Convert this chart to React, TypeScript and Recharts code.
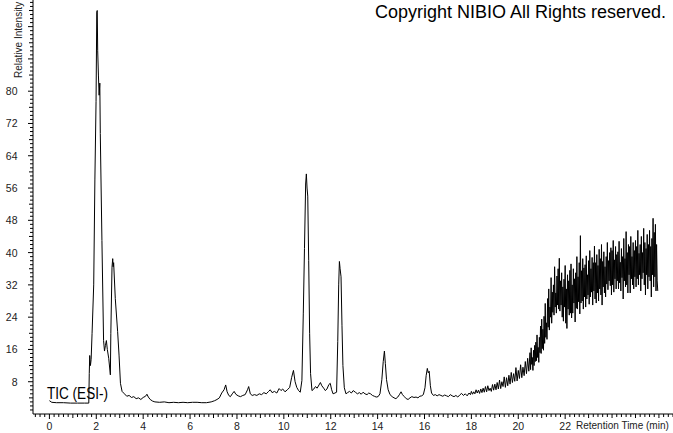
import { LineChart, Line, XAxis, YAxis } from "recharts";

// TIC (ESI-) chromatogram, retention time (min) vs relative intensity (%)

// solvent front + early cluster
const frontSegment: [number, number][] = [
  [0, 3.3], [0.1, 2.9], [0.3, 2.8], [0.6, 2.8], [0.9, 2.7], [1.2, 2.7], [1.5, 2.7], [1.68, 2.7],
  [1.7, 10], [1.72, 14.5], [1.75, 12], [1.78, 13.5], [1.82, 20], [1.89, 32], [1.94, 58], [1.99, 77.5],
  [2.02, 99.6], [2.04, 100], [2.06, 90], [2.09, 84], [2.12, 79], [2.15, 82], [2.17, 69.5], [2.24, 43],
  [2.31, 18.2], [2.35, 15.6], [2.39, 17], [2.43, 18.2], [2.47, 16], [2.53, 13.8], [2.6, 9.7],
  [2.62, 20], [2.67, 36.4], [2.7, 38.5], [2.72, 36.5], [2.74, 37.5], [2.81, 28.6], [2.91, 20.4],
  [2.97, 14.6], [3.03, 7.6],
];

// quiet baseline with the mid-run peaks (10.9, 12.4, 14.3, 16.1 min)
const midSegment: [number, number][] = [
  [3.1, 5.6], [3.2, 5.0], [3.3, 4.4], [3.4, 4.6], [3.5, 4.1], [3.6, 4.3], [3.7, 3.8], [3.8, 4.0],
  [3.9, 3.6], [4.0, 4.1], [4.1, 4.4], [4.16, 4.9], [4.22, 4.2], [4.3, 3.6], [4.4, 3.2], [4.5, 3.0],
  [4.7, 2.9], [4.9, 3.0], [5.1, 2.8], [5.3, 2.9], [5.5, 2.8], [5.7, 2.9], [5.9, 2.8], [6.1, 2.9],
  [6.3, 2.9], [6.5, 2.8], [6.7, 2.8], [6.9, 3.0], [7.05, 3.3], [7.15, 3.6], [7.25, 4.0], [7.35, 5.2],
  [7.45, 6.0], [7.52, 7.2], [7.58, 5.5], [7.65, 4.6], [7.72, 4.3], [7.8, 5.0], [7.88, 5.6], [7.95, 4.9],
  [8.05, 4.5], [8.15, 4.3], [8.25, 4.6], [8.35, 4.8], [8.45, 6.0], [8.5, 6.8], [8.57, 5.0], [8.65, 4.6],
  [8.75, 4.8], [8.85, 4.6], [8.95, 5.0], [9.05, 4.8], [9.15, 5.3], [9.25, 5.0], [9.35, 5.6], [9.42, 6.0],
  [9.5, 5.3], [9.6, 5.6], [9.7, 5.2], [9.8, 6.3], [9.88, 5.8], [9.95, 6.2], [10.05, 5.5], [10.15, 6.0],
  [10.25, 6.6], [10.33, 9.0], [10.41, 10.8], [10.48, 8.0], [10.55, 6.6], [10.63, 5.8], [10.7, 5.4],
  [10.77, 8.3], [10.83, 25], [10.88, 41], [10.93, 57], [10.96, 59.5], [10.99, 56], [11.02, 54],
  [11.06, 38], [11.1, 20], [11.14, 10], [11.2, 5.8], [11.28, 6.2], [11.35, 6.8], [11.42, 6.4],
  [11.5, 7.2], [11.56, 7.8], [11.62, 7.0], [11.7, 6.4], [11.77, 5.8], [11.84, 6.2], [11.92, 7.3],
  [11.98, 7.6], [12.04, 6.0], [12.1, 5.0], [12.18, 5.2], [12.25, 5.4], [12.3, 18], [12.34, 32],
  [12.37, 37.8], [12.4, 36], [12.44, 34], [12.48, 22], [12.52, 12], [12.58, 6.5], [12.65, 5.0],
  [12.72, 5.3], [12.8, 5.6], [12.88, 5.2], [12.96, 5.8], [13.05, 5.4], [13.14, 5.0], [13.22, 5.3],
  [13.3, 4.9], [13.38, 5.4], [13.46, 5.0], [13.55, 4.8], [13.62, 5.2], [13.7, 5.0], [13.78, 4.6],
  [13.86, 4.4], [13.94, 4.2], [14.02, 4.3], [14.1, 5.0], [14.18, 8.5], [14.24, 13], [14.29, 15.6],
  [14.33, 12.5], [14.38, 8.5], [14.45, 6.0], [14.53, 4.8], [14.62, 4.3], [14.7, 4.0], [14.78, 3.8],
  [14.86, 4.2], [14.94, 4.9], [15.0, 5.5], [15.06, 4.8], [15.14, 4.3], [15.22, 3.8], [15.3, 3.6],
  [15.38, 4.0], [15.46, 4.3], [15.55, 4.1], [15.64, 4.2], [15.72, 4.0], [15.8, 4.4], [15.88, 4.5],
  [15.95, 4.8], [16.02, 6.5], [16.07, 9.5], [16.12, 11.3], [16.16, 10.2], [16.2, 10.6], [16.25, 7.0],
  [16.3, 5.2], [16.38, 4.6], [16.46, 4.8], [16.54, 4.5], [16.62, 4.8], [16.7, 4.6], [16.78, 4.4],
  [16.86, 4.7], [16.94, 4.5], [17.02, 4.3], [17.1, 4.8], [17.18, 4.5], [17.26, 4.3], [17.34, 4.6],
  [17.42, 4.2], [17.5, 4.7], [17.58, 5.1], [17.66, 4.6], [17.74, 5.0], [17.82, 4.5], [17.9, 5.2],
  [17.96, 4.8],
];

// gradient rise, one value per scan (0.05 min apart)
const riseStart = 18.0;
const riseScan = 0.05;
const riseValues = [
  5.6, 4.9, 5.5, 5.0, 6.0, 5.2, 5.9, 5.1, 6.2, 5.3,
  6.4, 5.4, 6.8, 5.5, 7.0, 5.8, 6.4, 5.6, 7.3, 5.9,
  7.4, 6.0, 7.8, 6.2, 8.4, 6.3, 8.0, 6.8, 9.2, 6.6,
  9.0, 7.0, 9.6, 7.4, 10.3, 7.8, 10.0, 8.1, 11.5, 8.2,
  10.8, 8.8, 12.2, 9.0, 11.6, 9.5, 13.0, 10.0, 13.8, 10.6,
];

// column bleed plateau, one value per scan (0.025 min apart)
const bleedStart = 20.5;
const bleedScan = 0.025;
const bleedValues = [
  15.2, 11.0, 16.4, 12.3, 14.0, 10.8, 15.8, 12.0, 17.0, 13.0,
  17.8, 13.2, 19.6, 14.0, 16.5, 12.8, 19.0, 15.2, 21.8, 15.0,
  23.5, 16.2, 21.0, 15.8, 24.2, 17.5, 27.4, 19.0, 22.6, 18.5,
  28.6, 21.5, 31.0, 20.8, 26.5, 24.0, 33.8, 22.5, 30.2, 25.2,
  32.0, 24.5, 36.5, 26.5, 30.0, 25.0, 34.2, 27.0, 36.0, 26.0,
  38.6, 25.5, 33.0, 27.0, 35.0, 24.0, 31.5, 23.0, 33.4, 26.5,
  36.8, 22.5, 31.0, 21.2, 34.5, 26.0, 33.0, 24.5, 35.6, 25.0,
  37.2, 23.8, 32.0, 25.0, 36.0, 27.5, 33.5, 22.8, 35.0, 26.2,
  39.0, 26.0, 34.0, 27.8, 37.5, 24.8, 44.2, 27.5, 35.5, 28.0,
  38.5, 26.0, 36.2, 29.0, 37.0, 26.5, 39.2, 28.5, 34.5, 29.5,
  38.0, 27.2, 40.5, 29.0, 36.0, 30.2, 38.8, 27.0, 37.5, 30.5,
  41.6, 28.5, 37.5, 27.5, 39.5, 30.0, 36.8, 28.0, 40.8, 31.0,
  38.5, 29.5, 42.0, 27.0, 37.8, 31.5, 40.2, 30.0, 36.5, 29.0,
  39.0, 32.2, 42.5, 30.8, 38.0, 33.0, 40.0, 31.8, 41.2, 29.5,
  40.5, 32.0, 43.0, 30.2, 38.2, 33.5, 41.5, 31.0, 39.5, 33.0,
  40.2, 31.0, 42.8, 32.5, 37.6, 30.5, 41.0, 33.8, 39.0, 28.5,
  43.5, 33.0, 38.5, 31.5, 45.2, 32.0, 40.0, 30.0, 42.0, 34.5,
  41.5, 30.0, 44.0, 33.5, 39.0, 32.0, 42.5, 31.0, 40.5, 34.0,
  43.0, 31.5, 41.5, 33.5, 45.5, 32.0, 39.8, 34.5, 42.0, 30.5,
  44.0, 33.5, 40.0, 35.0, 46.0, 32.0, 42.5, 29.5, 41.0, 34.5,
  44.5, 31.0, 42.0, 34.0, 45.5, 33.0, 41.5, 29.0, 43.5, 34.5,
  48.5, 31.5, 45.0, 34.0, 47.0, 30.5, 42.0, 33.0, 30.5,
];

const xLabels = [0, 2, 4, 6, 8, 10, 12, 14, 16, 18, 20, 22];
const yLabels = [8, 16, 24, 32, 40, 48, 56, 64, 72, 80];

const scans = (start: number, step: number, values: number[]) =>
  values.map((v, i) => ({ t: Math.round((start + i * step) * 1000) / 1000, v }));

const data = [
  ...frontSegment.map(([t, v]) => ({ t, v })),
  ...midSegment.map(([t, v]) => ({ t, v })),
  ...scans(riseStart, riseScan, riseValues),
  ...scans(bleedStart, bleedScan, bleedValues),
];

// minor ticks: 0.2 min on x, 1 unit on y
const xTicks: number[] = [];
for (let i = -3; i <= 133; i++) xTicks.push(Math.round(i * 2) / 10);
const yTicks: number[] = [];
for (let i = 1; i <= 102; i++) yTicks.push(i);

const FONT = "'Liberation Sans', Arial, sans-serif";

const XTick = (props: any) => {
  const { x, y, payload } = props;
  const v = payload.value;
  const labelled = xLabels.includes(v);
  const whole = Math.abs(v - Math.round(v)) < 1e-6;
  const len = labelled ? 5 : whole ? 4 : 3;
  return (
    <g>
      <line x1={x} x2={x} y1={y} y2={y + len} stroke="#000" strokeWidth={1} />
      {labelled && (
        <text x={x} y={y + 15.5} textAnchor="middle" fontSize={10.5} fontFamily={FONT} fill="#222">
          {v}
        </text>
      )}
    </g>
  );
};

const YTick = (props: any) => {
  const { x, y, payload } = props;
  const v = payload.value;
  const labelled = yLabels.includes(v);
  const len = v % 8 === 0 ? 5 : v % 4 === 0 ? 4 : 3;
  return (
    <g>
      <line x1={x - len} x2={x} y1={y} y2={y} stroke="#000" strokeWidth={1} />
      {labelled && (
        <text x={17.5} y={y + 4} textAnchor="end" fontSize={10.5} fontFamily={FONT} fill="#222">
          {v}
        </text>
      )}
    </g>
  );
};

export default function App() {
  return (
    <div style={{ position: "absolute", left: 0, top: 0, width: 673, height: 433, background: "#fff" }}>
      <LineChart width={673} height={433} data={data} margin={{ top: 0, right: 0, bottom: 0, left: 0 }}>
        <XAxis
          dataKey="t"
          type="number"
          domain={[-0.7, 26.6]}
          ticks={xTicks}
          interval={0}
          height={19}
          tickSize={0}
          tickMargin={0}
          tick={<XTick />}
          axisLine={{ stroke: "#000" }}
          tickLine={false}
          allowDataOverflow
        />
        <YAxis
          type="number"
          domain={[0, 102.6]}
          ticks={yTicks}
          interval={0}
          width={33}
          tickSize={0}
          tickMargin={0}
          tick={<YTick />}
          axisLine={{ stroke: "#000" }}
          tickLine={false}
          allowDataOverflow
        />
        <Line
          dataKey="v"
          type="linear"
          stroke="#000"
          strokeWidth={1}
          dot={false}
          isAnimationActive={false}
        />
      </LineChart>
      <svg width={673} height={433} style={{ position: "absolute", left: 0, top: 0, pointerEvents: "none" }}>
        <text
          x={21.5}
          y={78}
          transform="rotate(-90 21.5 78)"
          fontSize={10}
          fontFamily={FONT}
          fill="#222"
        >
          Relative Intensity
        </text>
        <text x={375} y={18} fontSize={18} fontFamily={FONT} fill="#000">
          Copyright NIBIO All Rights reserved.
        </text>
        <text
          x={47}
          y={398.5}
          fontSize={16}
          fontFamily={FONT}
          fill="#000"
          textLength={61}
          lengthAdjust="spacingAndGlyphs"
        >
          TIC (ESI-)
        </text>
        <text x={576} y={429} fontSize={10} fontFamily={FONT} fill="#222">
          Retention Time (min)
        </text>
      </svg>
    </div>
  );
}
